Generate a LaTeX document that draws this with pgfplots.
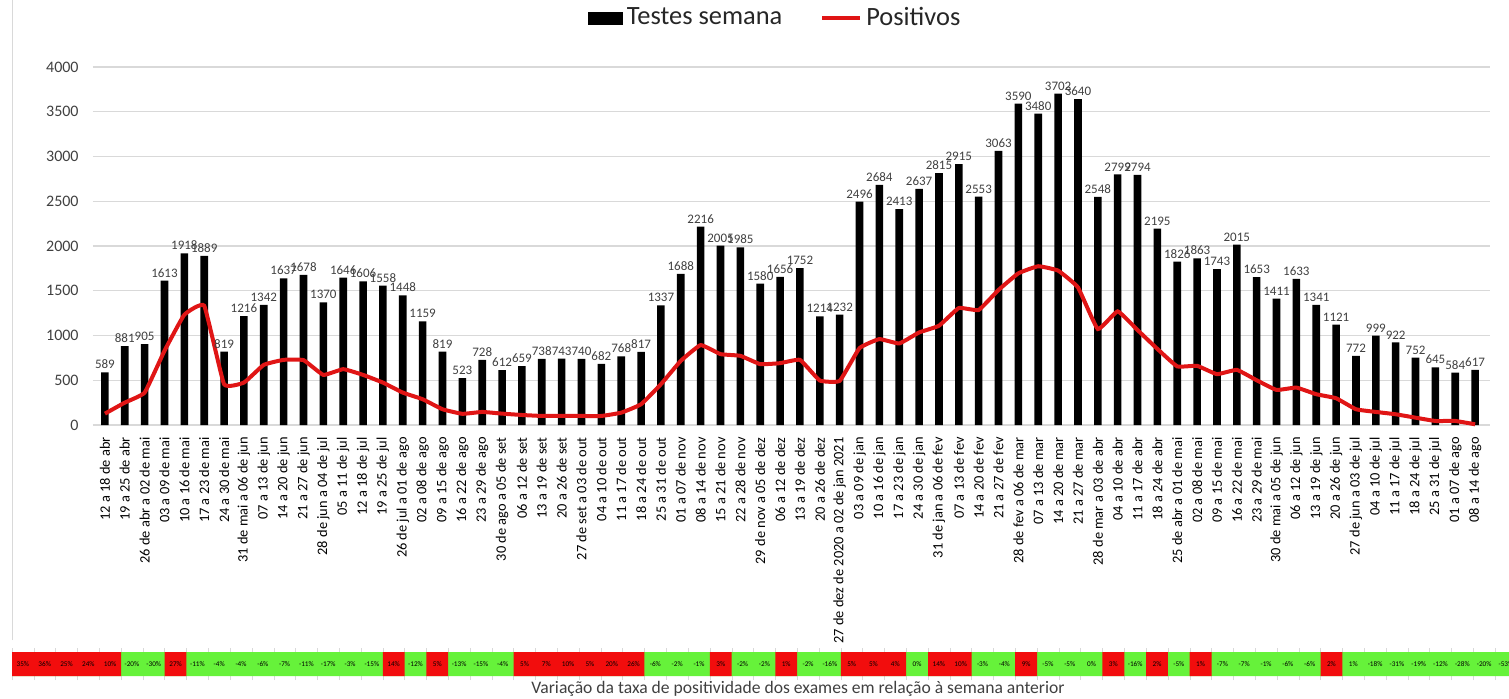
\documentclass[border=0pt]{standalone}
\usepackage{fontspec}
\setmainfont{Carlito}
\usepackage{pgfplots}
\usepackage{pgfplotstable}
\pgfplotsset{compat=1.18}
\definecolor{posred}{HTML}{E01515}
\definecolor{cellred}{HTML}{F20D0D}
\definecolor{cellgreen}{HTML}{66F23A}
\definecolor{gridgray}{HTML}{D9D9D9}
\definecolor{txtgray}{HTML}{404040}

% semana, testes, positivos
\pgfplotstableread{
x testes pos
0 589 127
1 881 250
2 905 362
3 1613 829
4 1918 1232
5 1889 1333
6 819 456
7 1216 474
8 1342 672
9 1637 728
10 1678 725
11 1370 560
12 1646 624
13 1606 560
14 1558 474
15 1448 362
16 1159 288
17 819 176
18 523 125
19 728 146
20 612 127
21 659 112
22 738 101
23 743 101
24 740 101
25 682 101
26 768 138
27 817 232
28 1337 456
29 1688 717
30 2216 893
31 2005 792
32 1985 773
33 1580 680
34 1656 691
35 1752 728
36 1214 497
37 1232 493
38 2496 859
39 2684 960
40 2413 911
41 2637 1034
42 2815 1109
43 2915 1307
44 2553 1285
45 3063 1509
46 3590 1695
47 3480 1774
48 3702 1725
49 3640 1538
50 2548 1072
51 2799 1270
52 2794 1061
53 2195 850
54 1826 655
55 1863 661
56 1743 568
57 2015 616
58 1653 500
59 1411 392
60 1633 418
61 1341 344
62 1121 299
63 772 176
64 999 146
65 922 120
66 752 82
67 645 45
68 584 45
69 617 8
}\semanas

% variacao da taxa de positividade (%)
\pgfplotstableread{
i h m v
1 1 0.5 35
2 1 0.5 36
3 1 0.5 25
4 1 0.5 24
5 1 0.5 10
6 1 0.5 -20
7 1 0.5 -30
8 1 0.5 27
9 1 0.5 -11
10 1 0.5 -4
11 1 0.5 -4
12 1 0.5 -6
13 1 0.5 -7
14 1 0.5 -11
15 1 0.5 -17
16 1 0.5 -3
17 1 0.5 -15
18 1 0.5 14
19 1 0.5 -12
20 1 0.5 5
21 1 0.5 -13
22 1 0.5 -15
23 1 0.5 -4
24 1 0.5 5
25 1 0.5 7
26 1 0.5 10
27 1 0.5 5
28 1 0.5 20
29 1 0.5 26
30 1 0.5 -6
31 1 0.5 -2
32 1 0.5 -1
33 1 0.5 3
34 1 0.5 -2
35 1 0.5 -2
36 1 0.5 1
37 1 0.5 -2
38 1 0.5 -16
39 1 0.5 5
40 1 0.5 5
41 1 0.5 4
42 1 0.5 0
43 1 0.5 14
44 1 0.5 10
45 1 0.5 -3
46 1 0.5 -4
47 1 0.5 9
48 1 0.5 -5
49 1 0.5 -5
50 1 0.5 0
51 1 0.5 3
52 1 0.5 -16
53 1 0.5 2
54 1 0.5 -5
55 1 0.5 1
56 1 0.5 -7
57 1 0.5 -7
58 1 0.5 -1
59 1 0.5 -6
60 1 0.5 -6
61 1 0.5 2
62 1 0.5 1
63 1 0.5 -18
64 1 0.5 -31
65 1 0.5 -19
66 1 0.5 -12
67 1 0.5 -28
68 1 0.5 -20
69 1 0.5 -53
}\variacao

\begin{document}
\begin{tikzpicture}
\useasboundingbox (0,0) rectangle (754.5pt,349pt);
\draw[gridgray] (6pt,29pt) -- (6pt,349pt);

\begin{axis}[
  at={(46.5pt,136.5pt)}, anchor=south west, scale only axis,
  width=698.5pt, height=179pt,
  xmin=-0.6, xmax=69.75, ymin=0, ymax=4000,
  ytick={0,500,...,4000},
  xtick={0,...,69},
  xticklabels={{12 a 18 de abr},{19 a 25 de abr},{26 de abr a 02 de mai},{03 a 09 de mai},{10 a 16 de mai},{17 a 23 de mai},{24 a 30 de mai},{31 de mai a 06 de jun},{07 a 13 de jun},{14 a 20 de jun},{21 a 27 de jun},{28 de jun a 04 de jul},{05 a 11 de jul},{12 a 18 de jul},{19 a 25 de jul},{26 de jul a 01 de ago},{02 a 08 de ago},{09 a 15 de ago},{16 a 22 de ago},{23 a 29 de ago},{30 de ago a 05 de set},{06 a 12 de set},{13 a 19 de set},{20 a 26 de set},{27 de set a 03 de out},{04 a 10 de out},{11 a 17 de out},{18 a 24 de out},{25 a 31 de out},{01 a 07 de nov},{08 a 14 de nov},{15 a 21 de nov},{22 a 28 de nov},{29 de nov a 05 de dez},{06 a 12 de dez},{13 a 19 de dez},{20 a 26 de dez},{27 de dez de 2020 a 02 de jan 2021},{03 a 09 de jan},{10 a 16 de jan},{17 a 23 de jan},{24 a 30 de jan},{31 de jan a 06 de fev},{07 a 13 de fev},{14 a 20 de fev},{21 a 27 de fev},{28 de fev a 06 de mar},{07 a 13 de mar},{14 a 20 de mar},{21 a 27 de mar},{28 de mar a 03 de abr},{04 a 10 de abr},{11 a 17 de abr},{18 a 24 de abr},{25 de abr a 01 de mai},{02 a 08 de mai},{09 a 15 de mai},{16 a 22 de mai},{23 a 29 de mai},{30 de mai a 05 de jun},{06 a 12 de jun},{13 a 19 de jun},{20 a 26 de jun},{27 de jun a 03 de jul},{04 a 10 de jul},{11 a 17 de jul},{18 a 24 de jul},{25 a 31 de jul},{01 a 07 de ago},{08 a 14 de ago}},
  axis line style={draw=none},
  major tick length=0pt,
  ymajorgrids, grid style={gridgray, line width=0.6pt},
  /pgf/number format/assume math mode=true,
  /pgf/number format/1000 sep={},
  yticklabel style={font=\fontsize{8}{9}\selectfont, text=txtgray, inner sep=0pt, xshift=-7pt},
  xticklabel style={font=\fontsize{7.2}{8}\selectfont, text=black, inner sep=0pt, yshift=-6pt, rotate=90, anchor=east},
  legend columns=2,
  legend style={draw=none, fill=none, at={(0.489,1)}, anchor=center, yshift=24.5pt,
    font=\fontsize{13.2}{15}\selectfont, text=black!85, inner sep=0pt,
    /tikz/every even column/.append style={column sep=17pt}},
  clip=false,
]
\addplot[ybar, bar width=3.8pt, fill=black, draw=none,
  nodes near coords,
  every node near coord/.append style={font=\fontsize{6.5}{7}\selectfont, text=txtgray, inner sep=1.5pt},
  legend image code/.code={\fill[black] (0pt,-3.25pt) rectangle (17.5pt,3.25pt);}]
  table[x=x, y=testes] {\semanas};
\addlegendentry{Testes semana}
\addplot[posred, line width=2pt, mark=none, smooth, tension=0.2,
  legend image code/.code={\draw[posred, line width=2pt] (0pt,0pt) -- (19pt,0pt);}]
  table[x=x, y=pos] {\semanas};
\addlegendentry{Positivos}
\end{axis}

\begin{axis}[
  at={(6pt,11pt)}, anchor=south west, scale only axis,
  width=748.5pt, height=12pt,
  xmin=0.5, xmax=69.14, ymin=0, ymax=1,
  axis line style={draw=none},
  ytick=\empty,
  xtick={0.5,1.5,...,69.5}, xticklabels={},
  tick align=outside, major tick length=2pt, tick style={gridgray},
  /pgf/number format/assume math mode=true,
  clip=false,
]
\addplot[ybar, bar width=1, fill=cellgreen, draw=none] table[x=i, y=h] {\variacao};
\addplot[ybar, bar width=1, fill=cellred, draw=none] coordinates {
  (1,1) (2,1) (3,1) (4,1) (5,1) (8,1) (18,1) (20,1)
  (24,1) (25,1) (26,1) (27,1) (28,1) (29,1) (33,1) (36,1)
  (39,1) (40,1) (41,1) (43,1) (44,1) (47,1) (51,1) (53,1) (55,1) (61,1)};
\addplot[draw=none, mark=none,
  nodes near coords={\pgfmathprintnumber{\pgfplotspointmeta}\%},
  point meta=explicit,
  every node near coord/.append style={anchor=center, font=\fontsize{3.6}{4}\selectfont, text=black, inner sep=0pt}]
  table[x=i, y=m, meta=v] {\variacao};
\end{axis}

\node[font=\fontsize{8.8}{10}\selectfont, text=txtgray] at (399pt,4.5pt)
  {Variação da taxa de positividade dos exames em relação à semana anterior};
\end{tikzpicture}
\end{document}
